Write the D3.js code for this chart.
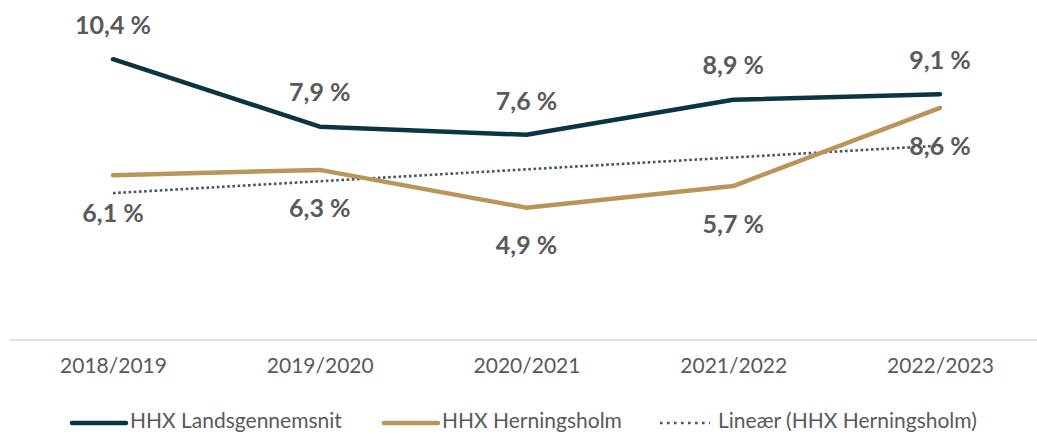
<!DOCTYPE html>
<html>
<head>
<meta charset="utf-8">
<script src="https://cdn.jsdelivr.net/npm/d3@7"></script>
<style>
body { margin: 0; background: #fff; }
svg { display: block; font-family: Lato, "Open Sans", sans-serif; }
</style>
</head>
<body>
<div id="chart"></div>
<script>
var width = 1037,
    height = 434;

var years = ["2018/2019", "2019/2020", "2020/2021", "2021/2022", "2022/2023"];
var landsgennemsnit = [10.4, 7.9, 7.6, 8.9, 9.1];
var herningsholm = [6.1, 6.3, 4.9, 5.7, 8.6];
var seriesNames = ["HHX Landsgennemsnit", "HHX Herningsholm", "Lineær (HHX Herningsholm)"];

var darkColor = "#0c3541",
    goldColor = "#b8965a",
    trendColor = "#44546a",
    textColor = "#595959";

var svg = d3.select("#chart")
    .append("svg")
    .attr("width", width)
    .attr("height", height);

var x = d3.scalePoint()
    .domain(years)
    .range([113, 940]);

var y = d3.scaleLinear()
    .domain([0, 12])
    .range([340, 16]);

// axis line + year labels
var xAxis = svg.append("g")
    .attr("transform", "translate(0,340)")
    .call(d3.axisBottom(x).tickSize(0).tickPadding(18));
xAxis.select(".domain").remove();
xAxis.selectAll("text")
    .style("font-size", "21px")
    .style("font-family", "Lato, sans-serif")
    .style("fill", textColor);

svg.append("line")
    .attr("x1", 10)
    .attr("x2", width)
    .attr("y1", 340)
    .attr("y2", 340)
    .attr("stroke", "#d9d9d9")
    .attr("stroke-width", 1.5);

// linear trend for Herningsholm (least squares, like Excel)
var n = herningsholm.length,
    mx = (n + 1) / 2,
    my = d3.mean(herningsholm);
var slope = d3.sum(herningsholm, function (v, i) { return (i + 1 - mx) * (v - my); }) /
    d3.sum(herningsholm, function (v, i) { return (i + 1 - mx) * (i + 1 - mx); });
var trend = herningsholm.map(function (v, i) { return my + slope * (i + 1 - mx); });

var line = d3.line()
    .x(function (d, i) { return x(years[i]); })
    .y(function (d) { return y(d); });

svg.append("path")
    .datum(trend)
    .attr("d", line)
    .attr("fill", "none")
    .attr("stroke", trendColor)
    .attr("stroke-width", 2.6)
    .attr("stroke-dasharray", "2.6,2.6");

svg.append("path")
    .datum(herningsholm)
    .attr("d", line)
    .attr("fill", "none")
    .attr("stroke", goldColor)
    .attr("stroke-width", 4.5)
    .attr("stroke-linejoin", "round")
    .attr("stroke-linecap", "round");

svg.append("path")
    .datum(landsgennemsnit)
    .attr("d", line)
    .attr("fill", "none")
    .attr("stroke", darkColor)
    .attr("stroke-width", 4.5)
    .attr("stroke-linejoin", "round")
    .attr("stroke-linecap", "round");

function fmt(v) {
    return d3.format(".1f")(v).replace(".", ",") + " %";
}

// data labels
svg.selectAll("text.lbl-dark")
    .data(landsgennemsnit)
    .enter()
    .append("text")
    .attr("class", "lbl-dark")
    .attr("x", function (d, i) { return x(years[i]); })
    .attr("y", function (d) { return y(d) - 34; })
    .attr("dy", "0.35em")
    .attr("text-anchor", "middle")
    .style("font-size", "25px")
    .style("font-weight", "bold")
    .style("fill", textColor)
    .text(fmt);

svg.selectAll("text.lbl-gold")
    .data(herningsholm)
    .enter()
    .append("text")
    .attr("class", "lbl-gold")
    .attr("x", function (d, i) { return x(years[i]); })
    .attr("y", function (d) { return y(d) + 38; })
    .attr("dy", "0.35em")
    .attr("text-anchor", "middle")
    .style("font-size", "25px")
    .style("font-weight", "bold")
    .style("fill", textColor)
    .text(fmt);

// legend
var legendItems = [
    { name: seriesNames[0], x: 70, color: darkColor, dash: null, w: 4.5 },
    { name: seriesNames[1], x: 382, color: goldColor, dash: null, w: 4.5 },
    { name: seriesNames[2], x: 660, color: trendColor, dash: "2.6,4.4", w: 2.6 }
];

var legend = svg.selectAll("g.legend")
    .data(legendItems)
    .enter()
    .append("g")
    .attr("class", "legend")
    .attr("transform", function (d) { return "translate(" + d.x + ",421)"; });

legend.append("line")
    .attr("x1", function (d) { return d.dash ? 0 : 2; })
    .attr("x2", function (d) { return d.dash ? 50 : 56; })
    .attr("y1", 2)
    .attr("y2", 2)
    .attr("stroke", function (d) { return d.color; })
    .attr("stroke-width", function (d) { return d.w; })
    .attr("stroke-linecap", function (d) { return d.dash ? "butt" : "round"; })
    .attr("stroke-dasharray", function (d) { return d.dash; });

legend.append("text")
    .attr("x", function (d) { return d.dash ? 58 : 60; })
    .attr("dy", "0.35em")
    .style("font-size", "21px")
    .style("fill", textColor)
    .text(function (d) { return d.name; });
</script>
</body>
</html>
